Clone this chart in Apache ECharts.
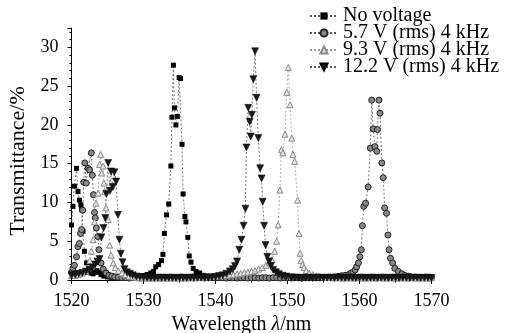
<!DOCTYPE html>
<html>
<head>
<meta charset="utf-8">
<script src="https://cdn.jsdelivr.net/npm/echarts@6/dist/echarts.min.js"></script>
<style>html,body{margin:0;padding:0;background:#fff}#c{width:506px;height:333px}</style>
</head>
<body>
<div id="c"></div>
<script>
const seriesNames = ['No voltage', '5.7 V (rms) 4 kHz', '9.3 V (rms) 4 kHz', '12.2 V (rms) 4 kHz'];
const xTicks = [1520, 1530, 1540, 1550, 1560, 1570];

const noVoltage = [[1520.0,7.1],[1520.2,9.5],[1520.4,12.1],[1520.7,14.4],[1520.9,11.4],[1521.1,10.3],[1521.3,9.7],[1521.4,9.1],[1521.6,6.3],[1521.8,3.7],[1522.1,2.2],[1522.4,1.3],[1522.7,0.9],[1523.0,0.8],[1523.3,1.0],[1523.5,1.2],[1523.8,1.0],[1524.1,0.7],[1524.5,0.5],[1525.0,0.4],[1525.5,0.35],[1526.0,0.3],[1526.5,0.3],[1527.0,0.25],[1527.5,0.3],[1528.0,0.3],[1528.5,0.35],[1529.0,0.4],[1529.5,0.45],[1530.0,0.55],[1530.5,0.7],[1531.0,0.9],[1531.4,1.1],[1531.7,1.7],[1532.1,2.0],[1532.5,2.5],[1532.7,3.3],[1532.9,6.0],[1533.2,8.4],[1533.5,9.8],[1533.8,14.7],[1533.95,21.0],[1534.15,27.7],[1534.3,22.2],[1534.5,20.0],[1534.7,21.1],[1534.95,26.1],[1535.15,26.0],[1535.35,17.5],[1535.5,11.1],[1535.75,8.2],[1535.9,7.5],[1536.15,5.5],[1536.35,3.1],[1536.6,2.3],[1536.9,1.5],[1537.3,1.1],[1537.8,0.9],[1538.3,0.6],[1538.8,0.5],[1539.3,0.4],[1540.0,0.3],[1540.5,0.3],[1541.0,0.25],[1541.5,0.3],[1542.0,0.3],[1542.5,0.25],[1543.0,0.3],[1543.5,0.3],[1544.0,0.25],[1544.5,0.3],[1545.0,0.3],[1545.5,0.25],[1546.0,0.3],[1546.5,0.3],[1547.0,0.25],[1547.5,0.3],[1548.0,0.3],[1548.5,0.25],[1549.0,0.3],[1549.5,0.3],[1550.0,0.25],[1550.5,0.3],[1551.0,0.3],[1551.5,0.25],[1552.0,0.3],[1552.5,0.3],[1553.0,0.25],[1553.5,0.3],[1554.0,0.3],[1554.5,0.25],[1555.0,0.3],[1555.5,0.3],[1556.0,0.25],[1556.5,0.3],[1557.0,0.3],[1557.5,0.25],[1558.0,0.3],[1558.5,0.3],[1559.0,0.25],[1559.5,0.3],[1560.0,0.3],[1560.5,0.25],[1561.0,0.3],[1561.5,0.3],[1562.0,0.25],[1562.5,0.3],[1563.0,0.3],[1563.5,0.25],[1564.0,0.3],[1564.5,0.3],[1565.0,0.25],[1565.5,0.3],[1566.0,0.3],[1566.5,0.25],[1567.0,0.3],[1567.5,0.3],[1568.0,0.25],[1568.5,0.3],[1569.0,0.3],[1569.5,0.25],[1570.0,0.3]];

const v57 = [[1520.0,1.0],[1520.2,1.5],[1520.4,1.9],[1520.7,3.0],[1520.9,4.3],[1521.1,4.7],[1521.25,6.0],[1521.4,6.5],[1521.55,9.0],[1521.7,12.6],[1521.85,15.1],[1522.05,12.5],[1522.3,14.4],[1522.5,14.2],[1522.75,16.4],[1522.9,13.5],[1523.05,11.0],[1523.2,8.7],[1523.3,8.0],[1523.45,6.7],[1523.65,5.6],[1523.8,3.9],[1524.1,2.2],[1524.4,1.4],[1524.8,0.9],[1525.2,0.6],[1525.6,0.5],[1526.0,0.4],[1526.5,0.35],[1527.0,0.3],[1527.5,0.3],[1528.0,0.25],[1528.5,0.3],[1529.0,0.3],[1529.5,0.25],[1530.0,0.3],[1530.5,0.3],[1531.0,0.25],[1531.5,0.3],[1532.0,0.3],[1532.5,0.25],[1533.0,0.3],[1533.5,0.3],[1534.0,0.25],[1534.5,0.3],[1535.0,0.3],[1535.5,0.25],[1536.0,0.3],[1536.5,0.3],[1537.0,0.25],[1537.5,0.3],[1538.0,0.3],[1538.5,0.25],[1539.0,0.3],[1539.5,0.3],[1540.0,0.25],[1540.5,0.3],[1541.0,0.3],[1541.5,0.25],[1542.0,0.3],[1542.5,0.3],[1543.0,0.25],[1543.5,0.3],[1544.0,0.3],[1544.5,0.25],[1545.0,0.3],[1545.5,0.3],[1546.0,0.25],[1546.5,0.3],[1547.0,0.3],[1547.5,0.25],[1548.0,0.3],[1548.5,0.3],[1549.0,0.25],[1549.5,0.3],[1550.0,0.3],[1550.5,0.25],[1551.0,0.3],[1551.5,0.3],[1552.0,0.25],[1552.5,0.3],[1553.0,0.3],[1553.5,0.3],[1554.0,0.3],[1554.5,0.3],[1555.0,0.3],[1555.5,0.35],[1556.0,0.35],[1556.5,0.4],[1557.0,0.45],[1557.5,0.55],[1558.0,0.6],[1558.5,0.7],[1558.8,0.9],[1559.1,1.0],[1559.4,1.3],[1559.6,1.7],[1559.85,2.2],[1560.05,3.0],[1560.25,3.9],[1560.4,7.0],[1560.6,9.5],[1560.85,9.9],[1561.2,12.0],[1561.5,17.0],[1561.7,23.2],[1561.9,19.5],[1562.15,17.2],[1562.4,16.6],[1562.5,19.4],[1562.7,23.2],[1562.85,21.5],[1563.1,15.1],[1563.3,13.2],[1563.5,9.3],[1563.75,8.6],[1563.95,5.8],[1564.1,3.9],[1564.3,2.8],[1564.6,2.2],[1564.9,1.5],[1565.4,1.1],[1565.9,0.8],[1566.3,0.6],[1566.8,0.5],[1567.2,0.4],[1567.6,0.35],[1568.0,0.3],[1568.5,0.3],[1569.0,0.25],[1569.5,0.3],[1570.0,0.3]];

const v93 = [[1520.0,0.6],[1520.5,0.6],[1521.0,0.7],[1521.5,0.9],[1521.9,1.1],[1522.3,1.5],[1522.55,2.5],[1522.75,3.7],[1523.0,5.2],[1523.2,7.5],[1523.4,9.9],[1523.7,11.2],[1523.9,14.9],[1524.05,16.2],[1524.2,13.8],[1524.4,14.7],[1524.5,12.5],[1524.6,11.4],[1524.8,9.3],[1525.1,7.8],[1525.3,4.5],[1525.5,3.2],[1525.8,2.2],[1526.1,1.6],[1526.5,1.2],[1527.0,0.9],[1527.5,0.7],[1528.0,0.5],[1528.5,0.4],[1529.0,0.35],[1529.5,0.3],[1530.0,0.3],[1530.5,0.25],[1531.0,0.3],[1531.5,0.3],[1532.0,0.25],[1532.5,0.3],[1533.0,0.3],[1533.5,0.25],[1534.0,0.3],[1534.5,0.3],[1535.0,0.25],[1535.5,0.3],[1536.0,0.3],[1536.5,0.3],[1537.0,0.3],[1537.5,0.35],[1538.0,0.35],[1538.5,0.4],[1539.0,0.4],[1539.5,0.45],[1540.0,0.45],[1540.5,0.5],[1541.0,0.55],[1541.5,0.6],[1542.0,0.65],[1542.5,0.7],[1543.0,0.8],[1543.5,0.85],[1544.0,0.95],[1544.5,1.0],[1545.0,1.1],[1545.5,1.2],[1546.0,1.4],[1546.5,1.6],[1547.0,1.9],[1547.5,2.3],[1547.8,2.6],[1548.2,3.7],[1548.5,5.0],[1548.7,7.1],[1548.95,11.6],[1549.15,16.8],[1549.35,16.4],[1549.65,18.8],[1549.9,24.2],[1550.1,27.4],[1550.35,22.6],[1550.6,18.3],[1550.75,16.2],[1551.0,15.3],[1551.4,10.3],[1551.6,6.0],[1551.75,3.45],[1551.9,2.5],[1552.1,2.0],[1552.3,1.6],[1552.6,1.2],[1553.0,0.9],[1553.5,0.7],[1554.0,0.55],[1554.5,0.45],[1555.0,0.4],[1555.5,0.35],[1556.0,0.35],[1556.5,0.3],[1557.0,0.3],[1557.5,0.25],[1558.0,0.3],[1558.5,0.3],[1559.0,0.25],[1559.5,0.3],[1560.0,0.3],[1560.5,0.25],[1561.0,0.3],[1561.5,0.3],[1562.0,0.25],[1562.5,0.3],[1563.0,0.3],[1563.5,0.25],[1564.0,0.3],[1564.5,0.3],[1565.0,0.25],[1565.5,0.3],[1566.0,0.3],[1566.5,0.25],[1567.0,0.3],[1567.5,0.3],[1568.0,0.25],[1568.5,0.3],[1569.0,0.3],[1569.5,0.25],[1570.0,0.3]];

const v122 = [[1520.0,0.6],[1520.5,0.7],[1521.0,0.8],[1521.5,0.9],[1522.0,1.1],[1522.5,1.3],[1522.9,1.6],[1523.3,2.0],[1523.6,2.4],[1523.9,2.7],[1524.15,5.5],[1524.45,6.7],[1524.7,8.0],[1524.85,11.1],[1525.1,15.1],[1525.35,11.5],[1525.5,14.0],[1525.75,12.0],[1525.95,13.9],[1526.2,12.7],[1526.45,8.4],[1526.65,5.2],[1526.85,3.4],[1527.1,2.3],[1527.35,1.4],[1527.7,1.0],[1528.1,0.8],[1528.5,0.6],[1529.0,0.45],[1529.5,0.4],[1530.0,0.35],[1530.5,0.3],[1531.0,0.3],[1531.5,0.25],[1532.0,0.3],[1532.5,0.3],[1533.0,0.25],[1533.5,0.3],[1534.0,0.3],[1534.5,0.25],[1535.0,0.3],[1535.5,0.3],[1536.0,0.25],[1536.5,0.3],[1537.0,0.3],[1537.5,0.3],[1538.0,0.3],[1538.5,0.3],[1539.0,0.3],[1539.5,0.35],[1540.0,0.4],[1540.5,0.5],[1541.0,0.6],[1541.5,0.8],[1542.0,1.1],[1542.4,1.4],[1542.7,1.8],[1543.0,2.4],[1543.3,3.9],[1543.6,5.2],[1543.9,7.0],[1544.15,9.2],[1544.3,17.1],[1544.55,22.2],[1544.75,20.4],[1544.9,18.5],[1545.05,21.3],[1545.25,25.9],[1545.5,29.5],[1545.7,23.5],[1545.95,18.3],[1546.2,14.4],[1546.4,13.1],[1546.55,10.1],[1546.75,7.0],[1546.95,4.5],[1547.2,3.0],[1547.45,2.4],[1547.7,1.8],[1548.0,1.3],[1548.4,1.0],[1548.8,0.75],[1549.3,0.55],[1549.8,0.45],[1550.5,0.35],[1551.0,0.3],[1551.5,0.3],[1552.0,0.25],[1552.5,0.3],[1553.0,0.3],[1553.5,0.25],[1554.0,0.3],[1554.5,0.3],[1555.0,0.25],[1555.5,0.3],[1556.0,0.3],[1556.5,0.25],[1557.0,0.3],[1557.5,0.3],[1558.0,0.25],[1558.5,0.3],[1559.0,0.3],[1559.5,0.25],[1560.0,0.3],[1560.5,0.3],[1561.0,0.25],[1561.5,0.3],[1562.0,0.3],[1562.5,0.25],[1563.0,0.3],[1563.5,0.3],[1564.0,0.25],[1564.5,0.3],[1565.0,0.3],[1565.5,0.25],[1566.0,0.3],[1566.5,0.3],[1567.0,0.25],[1567.5,0.3],[1568.0,0.3],[1568.5,0.25],[1569.0,0.3],[1569.5,0.3],[1570.0,0.25]];

const FONT = "'Liberation Serif', 'Times New Roman', serif";
const lineStyle = { color: '#555', width: 0.8, type: [2, 2] };

const chart = echarts.init(document.getElementById('c'), null, { renderer: 'canvas' });
chart.setOption({
  animation: false,
  backgroundColor: '#fff',
  grid: { left: 71.5, right: 74.5, top: 28, bottom: 53, outerBoundsMode: 'none', containLabel: false },
  legend: {
    orient: 'vertical', left: 309, top: 6, padding: 0,
    itemWidth: 28, itemHeight: 9, itemGap: -3,
    textStyle: { fontFamily: FONT, fontSize: 20, color: '#000', lineHeight: 16 },
    data: seriesNames
  },
  xAxis: {
    type: 'value', min: xTicks[0], max: xTicks[xTicks.length - 1], interval: 10,
    name: '{a|Wavelength }{i|λ}{a|/nm}', nameLocation: 'middle', nameGap: 30,
    nameTextStyle: { padding: [0, 20, 0, 0], rich: {
      a: { fontFamily: FONT, fontSize: 20, color: '#000' },
      i: { fontFamily: FONT, fontSize: 20, color: '#000', fontStyle: 'italic' } } },
    axisLine: { lineStyle: { color: '#000', width: 1 } },
    axisTick: { show: true, inside: false, length: 4, lineStyle: { color: '#000' } },
    minorTick: { show: true, splitNumber: 2, length: 2.5, lineStyle: { color: '#000' } },
    axisLabel: { fontFamily: FONT, fontSize: 18, color: '#000', margin: 12,
      formatter: function (v) { return String(v); } },
    splitLine: { show: false }
  },
  yAxis: {
    type: 'value', min: 0, max: 32.5, interval: 5,
    name: 'Transmittance/%', nameLocation: 'middle', nameGap: 26, nameRotate: 90,
    nameTextStyle: { fontFamily: FONT, fontSize: 22, color: '#000', padding: [0, 14, 0, 0] },
    axisLine: { show: true, lineStyle: { color: '#000', width: 1 } },
    axisTick: { show: true, inside: false, length: 4, lineStyle: { color: '#000' } },
    minorTick: { show: true, splitNumber: 5, length: 2, lineStyle: { color: '#000' } },
    axisLabel: { fontFamily: FONT, fontSize: 18, color: '#000', margin: 13, showMaxLabel: false },
    splitLine: { show: false }
  },
  series: [
    { name: seriesNames[0], type: 'line', data: noVoltage, symbol: 'rect', symbolSize: 5,
      itemStyle: { color: '#000' }, lineStyle: lineStyle },
    { name: seriesNames[1], type: 'line', data: v57, symbol: 'circle', symbolSize: 6,
      itemStyle: { color: '#888', borderColor: '#222', borderWidth: 1 }, lineStyle: lineStyle },
    { name: seriesNames[2], type: 'line', data: v93, symbol: 'triangle', symbolSize: 6,
      itemStyle: { color: '#e6e6e6', borderColor: '#8a8a8a', borderWidth: 1 }, lineStyle: { color: '#999', width: 0.8, type: [2, 2] } },
    { name: seriesNames[3], type: 'line', data: v122, symbol: 'triangle', symbolRotate: 180, symbolSize: 7,
      itemStyle: { color: '#1a1a1a', borderColor: '#000', borderWidth: 0.5 }, lineStyle: lineStyle }
  ]
});
</script>
</body>
</html>
